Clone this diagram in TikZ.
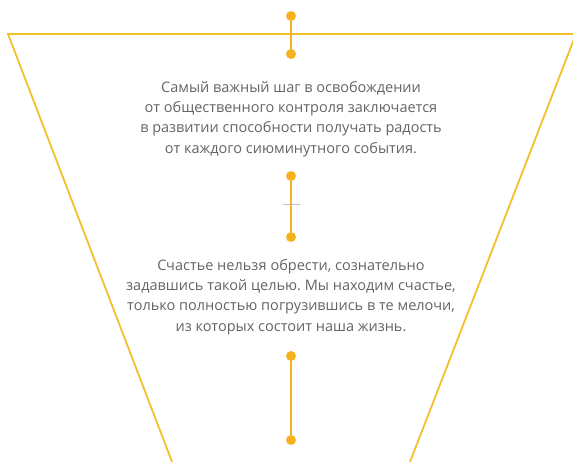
\documentclass[tikz,border=0pt]{standalone}
\usepackage{fontspec}
\setmainfont{Open Sans}
\usepackage{tikz}
\usetikzlibrary{positioning}
\definecolor{funnelyellow}{RGB}{244,192,42}
\definecolor{dotorange}{RGB}{246,178,30}
\definecolor{textgray}{RGB}{100,100,100}
\frenchspacing

\begin{document}
\begin{tikzpicture}[
  x=1pt, y=-1pt,
  font=\fontsize{14.5}{20.3}\selectfont,
  dot/.style={circle, fill=dotorange, inner sep=0pt, minimum size=10pt},
  link/.style={draw=dotorange, line width=2pt},
  rim/.style={draw=funnelyellow, line width=1.8pt, line join=miter},
  quote/.style={align=center, text=textgray},
]
  \useasboundingbox (0,0) rectangle (573,462);
  \clip (0,0) rectangle (573,462);

  % Funnel outline
  \coordinate (tl) at (8,34);
  \coordinate (tr) at (576,34);
  \coordinate (bl) at (179,480);
  \coordinate (br) at (403,480);
  \draw[rim] (bl) -- (tl) -- (tr) -- (br);

  % Connector dots
  \node[dot] (d1) at (291,16) {};
  \node[dot] (d2) at (291,54) {};
  \node[dot] (d3) at (291,176) {};
  \node[dot] (d4) at (291,237) {};
  \node[dot] (d5) at (291,356) {};
  \node[dot] (d6) at (291,440) {};

  \draw[link] (d1) -- (d2);
  \draw[link] (d3) -- (d4);
  \draw[link] (d5) -- (d6);
  \draw[gray!50, line width=0.4pt] (283,204) -- (300,204);

  % Quotes
  \node[quote] (quoteA) at (291,119) {Самый важный шаг в освобождении\\от общественного контроля заключается\\в развитии способности получать радость\\от каждого сиюминутного события.};
  \node[quote] (quoteB) at (291,297) {Счастье нельзя обрести, сознательно\\задавшись такой целью. Мы находим счастье,\\только полностью погрузившись в те мелочи,\\из которых состоит наша жизнь.};
\end{tikzpicture}
\end{document}
